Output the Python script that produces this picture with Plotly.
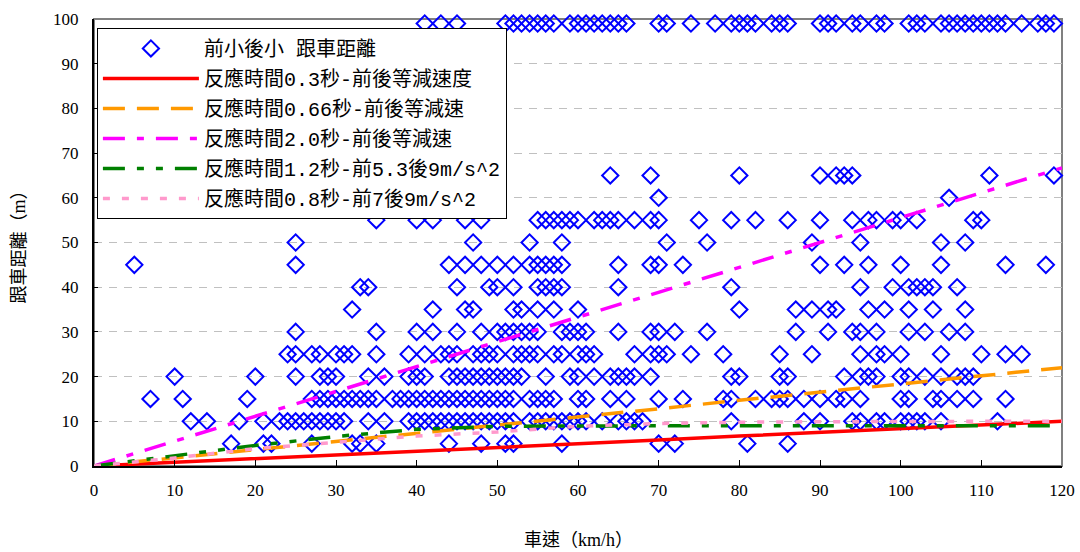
import plotly.graph_objects as go

# ---- scatter data: speeds (km/h) observed at each following distance (m) ----
dist_5 = [17, 21, 22, 27, 32, 33, 35, 44, 48, 51, 52, 58, 70, 72, 81, 86]
dist_10 = [12, 14, 18, 21, 23, 24, 25, 26, 27, 28, 29, 30, 31, 34, 36, 39, 40, 41, 42, 43,
           44, 45, 46, 47, 48, 49, 50, 51, 52, 54, 55, 56, 57, 58, 59, 60, 61, 63, 65, 66,
           67, 68, 79, 88, 90, 94, 95, 97, 98, 100, 101, 102, 103, 105, 112]
dist_15 = [7, 11, 19, 27, 28, 29, 30, 31, 32, 33, 34, 35, 37, 38, 39, 40, 41, 42, 43, 44,
           45, 46, 47, 48, 49, 50, 51, 52, 54, 55, 56, 57, 60, 61, 64, 66, 70, 73, 78, 79,
           82, 84, 85, 86, 88, 90, 92, 93, 95, 100, 101, 104, 105, 107, 109, 113]
dist_20 = [10, 20, 25, 28, 29, 30, 34, 36, 39, 40, 41, 44, 45, 46, 47, 48, 49, 50, 51, 52,
           53, 56, 59, 60, 62, 64, 65, 66, 67, 69, 79, 80, 85, 86, 93, 95, 96, 97, 100, 101,
           103, 105, 107, 108, 109]
dist_25 = [24, 25, 27, 28, 30, 31, 32, 35, 39, 41, 43, 44, 45, 47, 48, 49, 50, 52, 53, 54,
           55, 57, 58, 60, 61, 62, 67, 69, 70, 71, 74, 78, 85, 89, 95, 97, 98, 100, 105, 110,
           113, 115]
dist_30 = [25, 35, 40, 42, 45, 48, 50, 51, 52, 53, 54, 55, 58, 59, 60, 61, 65, 69, 70, 72,
           76, 87, 91, 94, 95, 97, 101, 103, 106, 108]
dist_35 = [32, 42, 46, 47, 52, 53, 55, 57, 60, 80, 87, 89, 91, 92, 96, 98, 101, 104, 108]
dist_40 = [33, 34, 45, 49, 50, 52, 55, 56, 57, 58, 65, 79, 95, 99, 101, 102, 103, 104, 107]
dist_45 = [5, 25, 44, 46, 48, 50, 52, 54, 55, 56, 57, 58, 65, 69, 70, 73, 90, 93, 96, 100,
           105, 113, 118]
dist_50 = [25, 47, 54, 58, 71, 76, 89, 95, 105, 108]
dist_55 = [35, 40, 42, 46, 48, 55, 56, 57, 58, 59, 60, 62, 63, 64, 65, 67, 69, 70, 75, 79,
           82, 86, 90, 94, 96, 97, 99, 100, 102, 109, 110]
dist_60 = [70, 106]
dist_65 = [64, 69, 80, 90, 92, 93, 94, 111, 119]
dist_99 = [41, 43, 45, 51, 52, 53, 54, 55, 56, 57, 59, 60, 61, 62, 63, 64, 65, 66, 70, 71,
           74, 77, 79, 80, 81, 82, 84, 85, 86, 90, 91, 92, 94, 95, 97, 98, 101, 102, 103, 105,
           106, 107, 108, 109, 110, 111, 112, 113, 115, 117, 118, 119]

row_levels = [5, 10, 15, 20, 25, 30, 35, 40, 45, 50, 55, 60, 65, 99]
row_speeds = [dist_5, dist_10, dist_15, dist_20, dist_25, dist_30, dist_35, dist_40,
              dist_45, dist_50, dist_55, dist_60, dist_65, dist_99]

# ---- model curves ----
line_speeds = [0, 10, 20, 30, 40, 50, 60, 70, 80, 90, 100, 110, 120]
red_vals = [0, 0.8, 1.7, 2.5, 3.3, 4.2, 5.0, 5.8, 6.7, 7.5, 8.3, 9.2, 10.0]
orange_vals = [0, 1.8, 3.7, 5.5, 7.3, 9.2, 11.0, 12.8, 14.7, 16.5, 18.3, 20.2, 22.0]
magenta_vals = [0, 5.6, 11.1, 16.7, 22.2, 27.8, 33.3, 38.9, 44.4, 50.0, 55.6, 61.1, 66.7]
green_vals = [0, 2.3, 4.6, 6.6, 8.2, 8.9, 9.0, 9.0, 9.0, 9.0, 9.0, 9.0, 9.0]
pink_vals = [0, 1.8, 3.9, 5.3, 6.7, 7.6, 8.9, 9.5, 9.8, 9.9, 10.0, 10.0, 10.0]

names = [
    "前小後小 跟車距離",
    "反應時間0.3秒-前後等減速度",
    "反應時間0.66秒-前後等減速",
    "反應時間2.0秒-前後等減速",
    "反應時間1.2秒-前5.3後9m/s^2",
    "反應時間0.8秒-前7後9m/s^2",
]
x_title = "車速（km/h）"
y_title = "跟車距離（m）"

xs, ys = [], []
for lvl, sp in zip(row_levels, row_speeds):
    xs += sp
    ys += [lvl] * len(sp)

fig = go.Figure()
fig.add_trace(go.Scatter(
    x=xs, y=ys, mode="markers", name=names[0], legendgroup="g0",
    marker=dict(symbol="diamond-open", size=12.5, color="#0000FF",
                line=dict(color="#0000FF", width=2)),
    cliponaxis=False,
))
line_specs = [
    (red_vals, "#FF0000", "solid"),
    (orange_vals, "#FF9900", "22px,12px"),
    (magenta_vals, "#FF00FF", "22px,12px,7px,12px"),
    (green_vals, "#008000", "22px,12px,7px,12px,7px,12px"),
    (pink_vals, "#FF99CC", "7px,12px"),
]
for i, (vals, col, dash) in enumerate(line_specs):
    fig.add_trace(go.Scatter(
        x=line_speeds, y=vals, mode="lines", name=names[i + 1], legendgroup=f"g{i+1}",
        line=dict(color=col, width=3.5, dash=dash),
    ))

serif = "Liberation Serif"
legend_font = "Liberation Mono, Noto Sans CJK TC"
title_font = "Liberation Serif, Noto Sans CJK TC"

fig.update_layout(
    width=1080, height=552,
    margin=dict(l=94, r=18, t=19, b=86),
    paper_bgcolor="white", plot_bgcolor="white",
    showlegend=True,
    legend=dict(
        x=0.003, y=0.98, xanchor="left", yanchor="top",
        bgcolor="white", bordercolor="black", borderwidth=1,
        font=dict(family=legend_font, size=20, color="black"),
        traceorder="grouped", tracegroupgap=1, itemwidth=96,
    ),
    xaxis=dict(
        range=[0, 120], tickvals=list(range(0, 121, 10)),
        showgrid=False, zeroline=False, automargin=False,
        showline=True, linecolor="black", linewidth=2,
        ticks="inside", ticklen=6, tickcolor="black",
        ticklabelstandoff=8,
        tickfont=dict(family=serif, size=17, color="black"),
    ),
    yaxis=dict(
        range=[0, 100], tickvals=list(range(0, 101, 10)),
        showgrid=True, gridcolor="#C0C0C0", griddash="8px,7px", gridwidth=1,
        zeroline=False, automargin=False,
        showline=True, linecolor="black", linewidth=2,
        ticks="inside", ticklen=4, tickcolor="black",
        ticklabelstandoff=10,
        tickfont=dict(family=serif, size=17, color="black"),
    ),
    annotations=[
        dict(text=x_title, xref="paper", yref="paper", x=0.5, y=0, yshift=-74,
             xanchor="center", yanchor="middle", showarrow=False,
             font=dict(family=title_font, size=18, color="black")),
        dict(text=y_title, xref="paper", yref="paper", x=0, y=0.5, xshift=-76,
             xanchor="center", yanchor="middle", textangle=-90, showarrow=False,
             font=dict(family=title_font, size=18, color="black")),
    ],
    shapes=[dict(type="rect", xref="paper", yref="paper", x0=0, x1=1, y0=0, y1=1,
                 line=dict(color="#808080", width=2), layer="below")],
)

fig.write_html("out.html")
